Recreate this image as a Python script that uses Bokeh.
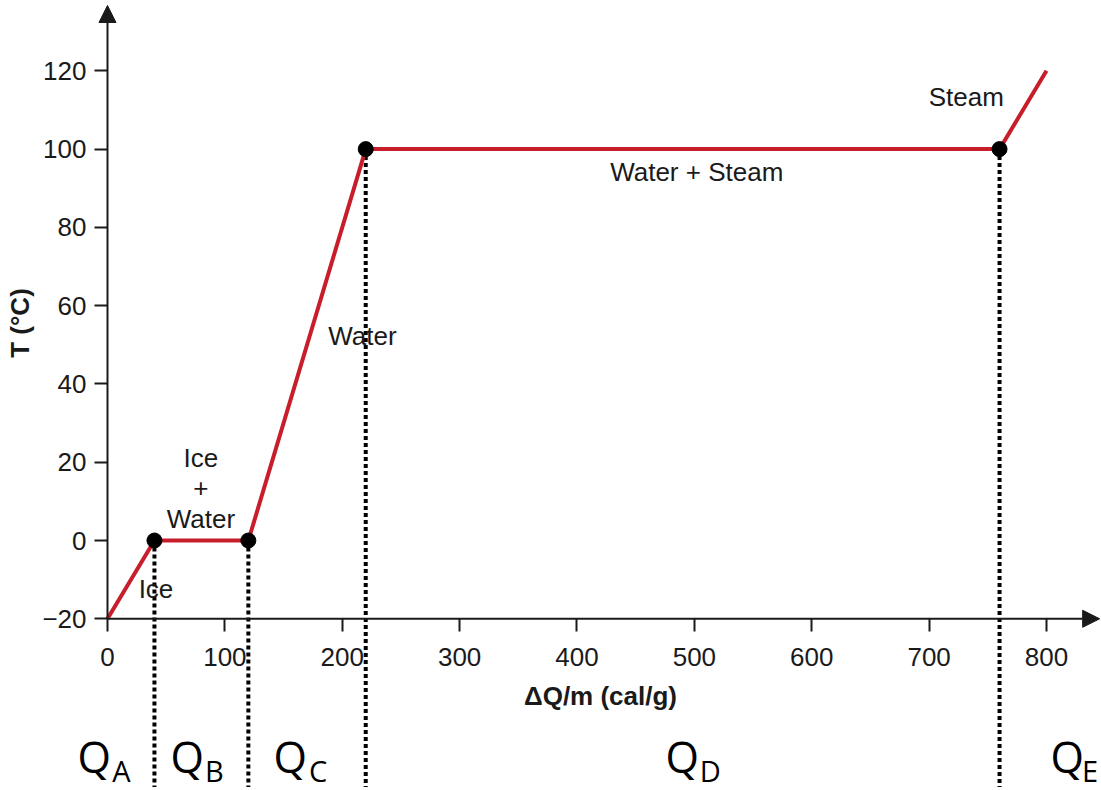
from bokeh.plotting import figure
from bokeh.models import Range1d, FixedTicker, Arrow, NormalHead, ColumnDataSource
from bokeh.core.properties import value
from bokeh.embed import file_html
from bokeh.resources import INLINE

# ---- data ----
heat = [0, 40, 120, 220, 760, 800]          # ΔQ/m (cal/g)
temp = [-20, 0, 0, 100, 100, 120]           # T (°C)
dot_heat = [40, 120, 220, 760]
dot_temp = [0, 0, 100, 100]
x_ticks = [0, 100, 200, 300, 400, 500, 600, 700, 800]
y_ticks = [-20, 0, 20, 40, 60, 80, 100, 120]
phase_names = ["Ice", "Ice\n+\nWater", "Water", "Water + Steam", "Steam"]
q_main = ["Q", "Q", "Q", "Q", "Q"]
q_subs = ["A", "B", "C", "D", "E"]

# ---- annotation placement (data coords) ----
phase_x = [41.3, 79.6, 217.2, 502.0, 731.7]
phase_y = [-12.3, 13.3, 52.3, 94.2, 113.4]
q_x = [-25.6, 53.7, 141.4, 475.3, 803.4]
q_sub_x = [4.0, 83.0, 171.6, 504.6, 830.2]

RED = "#c81e2c"
INK = "#1a1a1a"
FONT = "Liberation Sans"

p = figure(width=1101, height=790, output_backend="svg", toolbar_location=None,
           x_range=Range1d(-91.16, 846.86), y_range=Range1d(-63.87, 137.97),
           min_border=0, outline_line_color=None)
p.grid.visible = False

# axes placed inside the frame
for ax in (p.xaxis[0], p.yaxis[0]):
    ax.axis_line_color = None
    ax.major_tick_in = 0
    ax.major_tick_out = 13
    ax.major_tick_line_width = 2
    ax.major_tick_line_color = INK
    ax.minor_tick_line_color = None
    ax.major_label_text_font = FONT
    ax.major_label_text_font_size = "26px"
    ax.major_label_text_color = INK
    ax.axis_label_text_font = FONT
    ax.axis_label_text_font_style = "bold"
    ax.axis_label_text_font_size = "26px"
    ax.axis_label_text_color = INK

xa = p.xaxis[0]
xa.fixed_location = -20
xa.ticker = FixedTicker(ticks=x_ticks)
xa.bounds = (0, 840)
xa.axis_label = "ΔQ/m (cal/g)"
xa.major_label_standoff = 16
xa.axis_label_standoff = 12

ya = p.yaxis[0]
ya.fixed_location = 0
ya.ticker = FixedTicker(ticks=y_ticks)
ya.bounds = (-20, 131)
ya.major_label_overrides = {-20: "\u221220"}
ya.axis_label = "T (°C)"
ya.major_label_standoff = 8
ya.axis_label_standoff = 4

# axis arrows
p.add_layout(Arrow(end=NormalHead(size=17, fill_color=INK, line_color=INK),
                   x_start=0, y_start=-20, x_end=845.3, y_end=-20,
                   line_width=2, line_color=INK))
p.add_layout(Arrow(end=NormalHead(size=17, fill_color=INK, line_color=INK),
                   x_start=0, y_start=-20, x_end=0, y_end=136.7,
                   line_width=2, line_color=INK))

# dotted drop lines
p.segment(x0=dot_heat, y0=dot_temp, x1=dot_heat, y1=[-63] * len(dot_heat),
          line_color="black", line_width=4, line_dash="4 3")

# heating curve
p.line(heat, temp, line_color=RED, line_width=4)
p.scatter(dot_heat, dot_temp, size=15, fill_color="black", line_color="black")

# phase labels
p.text(x=phase_x, y=phase_y, text=phase_names, text_align="center",
       text_baseline="middle", text_font=value(FONT), text_font_size="26px",
       text_color=INK, text_line_height=1.02)

# Q labels
q_src = ColumnDataSource(dict(x=q_x, sx=q_sub_x, q=q_main, s=q_subs))
p.text(x="x", y=-55.2, text="q", source=q_src, text_align="left",
       text_baseline="alphabetic", text_font=value("Open Sans"),
       text_font_size="43px", text_color="black")
p.text(x="sx", y=-58.8, text="s", source=q_src, text_align="left",
       text_baseline="alphabetic", text_font=value("Open Sans"),
       text_font_size="29px", text_color="black")

open("out.html", "w").write(file_html(p, INLINE))
